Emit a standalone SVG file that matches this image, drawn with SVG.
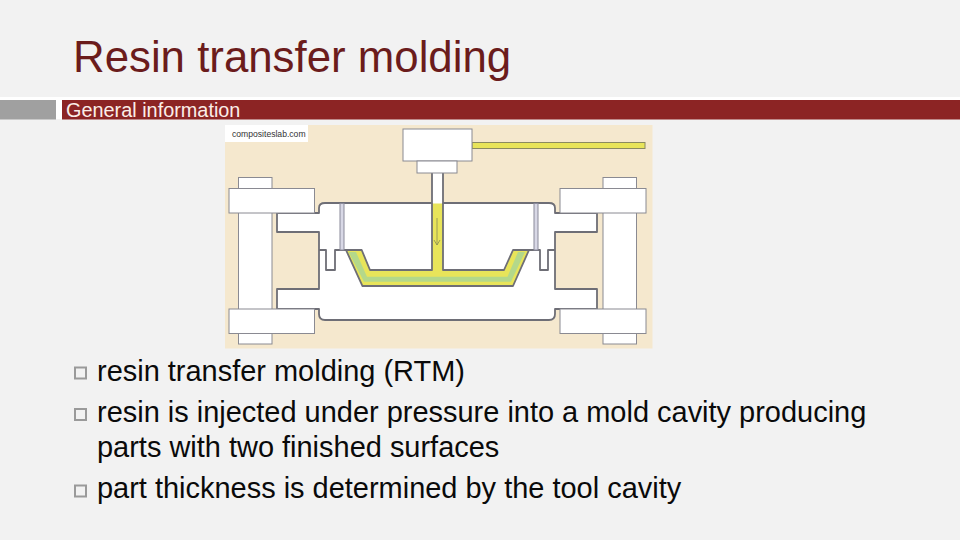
<svg xmlns="http://www.w3.org/2000/svg" width="960" height="540" viewBox="0 0 960 540">
<style>
text{font-family:"Liberation Sans",Arial,sans-serif}
.body{font-size:28.96px;fill:#0a0a0a}
.bul{fill:none;stroke:#9a9a9a;stroke-width:2}
.o{fill:none;stroke:#6e6e76;stroke-width:1.8;stroke-linejoin:round}
.t{fill:#fff;stroke:#8a8a92;stroke-width:1}
</style>
<rect width="960" height="540" fill="#f2f2f2"/>
<g id="title"><text x="73" y="71.500" font-size="43.8" fill="#6b1c1c">Resin transfer molding</text></g>
<g id="band">
<rect x="0" y="97" width="960" height="3" fill="#fff"/>
<rect x="56" y="100" width="6" height="19" fill="#fff"/>
<rect x="0" y="100" width="56" height="19.5" fill="#a0a0a0"/>
<rect x="62" y="100" width="898" height="19.5" fill="#8c2424"/>
<text x="66" y="116.500" font-size="19.87" fill="#fbeee8">General information</text>
</g>
<g id="figure">
<rect x="225" y="125" width="427.500" height="223.500" fill="#f5e8ce"/>
<rect x="225" y="125" width="83" height="17" fill="#fff"/>
<text x="232" y="137" font-size="8.600" fill="#333">compositeslab.com</text>
<rect class="t" x="238.500" y="177.500" width="33.500" height="166.500"/>
<rect class="t" x="603" y="177.500" width="33.500" height="166.500"/>
<rect x="472" y="142.500" width="173" height="6" fill="#e8e45a" stroke="#8a8a60" stroke-width="1"/>
<path d="M277 213H319V208Q319 203 325 203H549Q555 203 555 208V213H597V232H555V289H597V309H555V314Q555 320 549 320H325Q319 320 319 314V309H277V289H319V232H277Z" fill="#fff"/>
<rect x="432" y="173" width="11" height="30" fill="#fff"/>
<path class="o" d="M432 173V203H325Q319 203 319 208V213H277V232H319V289H277V309H319V314Q319 320 325 320H549Q555 320 555 314V309H597V289H555V232H597V213H555V208Q555 203 549 203H443V173"/>
<path class="o" d="M319 250H326V270H335V250H346M529 250H540V270H548V250H555"/>
<path d="M346 250.500H361.700L370 270H432V203.500H443V270H504L513 250.500H529L513 286H362.500Z" fill="#e8e45a"/>
<path d="M348.500 252H356L367 276.700H507.500L518 252H525L511 281.700H364Z" fill="#b4d88a"/>
<path class="o" d="M346 250H361.700L370 270H432V203"/>
<path class="o" d="M443 203V270H504L513 250H529L513 286H362.500L346 250"/>
<rect x="340" y="203.500" width="4" height="46.500" fill="#d8d8e6" stroke="#8a8a9a" stroke-width="1"/>
<rect x="534" y="203.500" width="4" height="46.500" fill="#d8d8e6" stroke="#8a8a9a" stroke-width="1"/>
<path d="M437 218V245M434 240L437 245L440 240" fill="none" stroke="#8a8a50" stroke-width="0.800"/>
<rect class="t" x="403" y="129" width="69" height="32"/>
<rect class="t" x="417" y="161" width="40" height="12"/>
<rect class="t" x="229" y="188.500" width="85.500" height="24.500"/>
<rect class="t" x="229" y="309" width="85.500" height="24.500"/>
<rect class="t" x="560" y="188.500" width="86" height="24.500"/>
<rect class="t" x="560" y="309" width="86" height="24.500"/>
</g>
<g id="bullets">
<rect class="bul" x="75" y="367.500" width="11" height="11"/>
<rect class="bul" x="75" y="409" width="11" height="11"/>
<rect class="bul" x="75" y="485.500" width="11" height="11"/>
<text class="body" x="97" y="381">resin transfer molding (RTM)</text>
<text class="body" x="97" y="422">resin is injected under pressure into a mold cavity producing</text>
<text class="body" x="97" y="457">parts with two finished surfaces</text>
<text class="body" x="97" y="498">part thickness is determined by the tool cavity</text>
</g>
</svg>
